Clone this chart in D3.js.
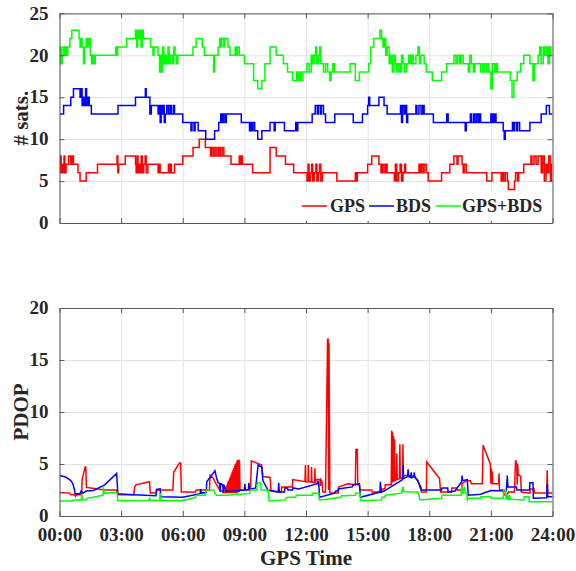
<!DOCTYPE html>
<html>
<head>
<meta charset="utf-8">
<script src="https://cdn.jsdelivr.net/npm/d3@7"></script>
<style>
  html, body { margin: 0; padding: 0; background: #fff; }
  svg { display: block; }
  text { font-family: "Liberation Serif", "Times New Roman", serif; font-weight: bold; fill: #262626; }
</style>
</head>
<body>
<svg id="chart" width="576" height="571"></svg>
<script>
// Visible satellites over one day, step points as [hour, count]
const gpsSats = [[0,6],[0.04,8],[0.08,6],[0.13,7],[0.18,6],[0.22,8],[0.26,6],[0.32,7],[0.45,8],[0.55,7],[0.62,8],[0.68,7],[0.9,6],[1.0,5],[1.3,6],[1.85,7],[2.8,8],[2.84,6],[2.88,7],[3.2,8],[3.7,7],[3.73,6],[3.78,8],[3.82,6],[3.88,7],[3.93,6],[3.98,8],[4.03,6],[4.1,7],[4.17,8],[4.22,6],[4.3,7],[4.8,6],[4.85,7],[4.9,6],[5.3,7],[5.35,6],[5.4,7],[5.45,6],[5.6,7],[6.0,8],[6.5,9],[6.8,10],[7.1,9],[7.35,8],[7.42,9],[7.5,8],[7.58,9],[7.66,8],[7.75,9],[7.83,8],[7.92,9],[8.0,8],[8.35,7],[8.75,8],[8.8,7],[8.85,8],[8.9,7],[9.4,6],[10.25,9],[10.55,8],[11.0,7],[11.4,6],[12.05,5],[12.1,7],[12.15,5],[12.22,6],[12.28,7],[12.33,5],[12.4,6],[12.48,7],[12.53,5],[12.6,6],[12.66,7],[12.72,5],[12.8,6],[13.5,5],[14.4,6],[14.45,5],[14.5,6],[15.0,7],[15.2,8],[15.55,7],[15.65,6],[15.72,7],[15.8,6],[15.88,7],[15.95,6],[16.3,5],[16.35,7],[16.42,5],[16.5,6],[16.58,7],[16.65,5],[16.72,6],[16.8,7],[16.85,6],[17.5,7],[17.55,6],[17.62,7],[17.7,6],[17.75,7],[17.85,6],[17.95,5],[18.6,6],[19.0,7],[19.2,8],[19.35,7],[19.4,8],[19.6,7],[19.65,6],[19.7,7],[19.8,6],[20.8,5],[21.05,6],[21.5,5],[21.55,6],[21.62,5],[21.7,6],[21.8,5],[21.85,4],[22.15,5],[22.2,6],[22.3,5],[22.35,6],[22.6,7],[22.95,8],[23.0,7],[23.1,8],[23.2,7],[23.3,8],[23.45,6],[23.52,8],[23.6,5],[23.68,7],[23.75,6],[23.82,8],[23.9,5],[23.95,7],[24,7]];
const bdsSats = [[0,13],[0.2,14],[0.55,15],[0.68,16],[1.0,15],[1.05,16],[1.1,14],[1.15,15],[1.2,14],[1.27,16],[1.32,14],[1.38,15],[1.45,14],[1.55,13],[2.85,14],[3.7,15],[4.18,16],[4.22,15],[4.4,13],[4.47,14],[4.8,13],[4.85,14],[4.9,12],[4.95,14],[5.0,13],[5.05,14],[5.1,12],[5.15,13],[5.22,14],[5.3,13],[5.38,14],[5.45,13],[5.55,14],[5.6,13],[6.0,12],[6.4,11],[6.45,12],[6.55,11],[6.6,12],[6.75,11],[7.12,10],[7.55,11],[7.75,12],[7.85,13],[7.9,12],[7.97,13],[8.05,12],[8.12,13],[8.85,12],[9.25,11],[9.3,12],[9.35,11],[9.42,12],[9.5,11],[9.65,10],[9.85,11],[10.25,12],[10.45,11],[10.5,12],[10.95,11],[11.5,12],[11.55,11],[11.6,12],[12.3,13],[12.45,14],[12.55,13],[12.6,14],[12.7,13],[12.75,14],[12.85,13],[12.95,12],[13.4,13],[14.3,12],[14.75,13],[15.0,14],[15.05,15],[15.1,14],[15.55,15],[15.8,14],[15.95,13],[16.6,14],[16.65,12],[16.7,14],[16.78,13],[16.85,14],[16.9,12],[16.95,13],[17.35,14],[17.4,13],[17.5,14],[17.6,13],[17.68,14],[17.75,13],[18.2,12],[18.85,13],[18.92,12],[19.75,11],[19.8,12],[20.0,13],[20.05,12],[20.15,13],[20.22,12],[20.3,13],[20.38,12],[20.45,13],[20.5,12],[21.0,13],[21.05,12],[21.1,13],[21.15,12],[21.2,13],[21.25,12],[21.6,11],[21.65,10],[21.7,11],[22.05,12],[22.1,11],[22.15,12],[22.25,11],[22.3,12],[22.4,11],[22.9,12],[23.45,13],[23.7,14],[23.85,13],[24,13]];
const gpsBdsSats = [[0,19],[0.04,21],[0.09,19],[0.13,20],[0.18,21],[0.23,20],[0.28,21],[0.34,20],[0.4,21],[0.5,22],[0.6,23],[0.95,22],[1.0,21],[1.06,22],[1.1,21],[1.17,19],[1.22,21],[1.3,22],[1.36,21],[1.42,22],[1.5,20],[1.56,19],[1.62,20],[1.67,19],[1.74,20],[2.74,21],[2.78,20],[2.83,21],[3.27,22],[3.7,23],[3.75,21],[3.8,23],[3.86,22],[3.92,23],[3.97,21],[4.03,23],[4.08,22],[4.43,21],[4.55,20],[4.6,21],[4.8,20],[4.87,18],[4.92,20],[4.97,18],[5.02,21],[5.08,19],[5.15,20],[5.2,19],[5.28,21],[5.33,19],[5.4,20],[5.5,19],[5.56,21],[5.62,20],[5.7,19],[5.76,20],[6.5,21],[6.65,22],[6.95,21],[7.05,20],[7.5,18],[7.55,20],[7.72,21],[7.8,22],[7.85,21],[7.9,22],[8.0,21],[8.05,22],[8.2,21],[8.3,20],[8.55,21],[8.6,20],[8.66,21],[8.75,20],[9.0,19],[9.45,17],[9.65,16],[9.85,17],[10.0,19],[10.25,21],[10.55,20],[10.9,19],[11.1,18],[11.35,17],[11.55,18],[11.62,17],[11.7,18],[11.76,17],[11.85,18],[12.05,19],[12.15,18],[12.25,20],[12.32,19],[12.4,20],[12.47,21],[12.52,19],[12.6,20],[12.67,21],[12.72,19],[12.85,18],[12.95,19],[13.05,18],[13.15,17],[13.22,18],[13.3,19],[13.38,18],[14.15,19],[14.4,17],[14.6,18],[15.05,19],[15.15,21],[15.3,22],[15.6,23],[15.68,22],[15.75,21],[15.82,22],[15.88,20],[15.95,21],[16.05,19],[16.12,20],[16.2,18],[16.28,20],[16.35,19],[16.42,18],[16.5,19],[16.58,18],[16.65,20],[16.72,19],[16.8,18],[16.9,19],[17.0,20],[17.08,19],[17.15,20],[17.22,19],[17.35,20],[17.45,21],[17.52,19],[17.6,20],[17.75,19],[17.85,18],[18.15,17],[18.6,18],[18.85,19],[19.2,20],[19.3,19],[19.38,20],[19.48,19],[19.55,20],[19.65,19],[19.9,18],[19.97,20],[20.05,19],[20.15,18],[20.22,19],[20.5,18],[20.6,19],[20.7,18],[20.8,19],[20.9,18],[21.0,16],[21.07,19],[21.18,18],[21.25,19],[21.32,18],[21.95,17],[22.03,15],[22.12,17],[22.28,18],[22.45,19],[22.6,20],[22.9,19],[23.05,17],[23.12,19],[23.3,20],[23.38,21],[23.45,19],[23.55,21],[23.62,20],[23.7,21],[23.78,19],[23.85,21],[23.92,20],[24,20]];

// PDOP over the same day, points as [hour, PDOP]
const gpsPdop = [[0,2.25],[0.5,2.2],[0.55,2.05],[0.75,2.05],[0.78,1.9],[0.85,2.05],[1.08,2.05],[1.1,3.5],[1.25,4.7],[1.28,4.7],[1.31,2.75],[1.7,2.65],[2.2,2.5],[2.78,2.5],[2.83,2.05],[3.62,2.05],[3.66,2.8],[3.72,3.0],[4.38,3.3],[4.42,2.2],[4.7,2.2],[4.74,2.5],[5.52,2.5],[5.56,4.2],[5.84,5.1],[5.9,5.1],[5.93,2.3],[6.62,2.3],[6.66,2.5],[7.3,2.5],[7.33,3.9],[7.5,3.6],[7.56,3.3],[7.8,2.5],[8.05,2.25],[8.08,2.6],[8.1,2.2],[8.12,2.9],[8.14,2.2],[8.16,3.0],[8.18,2.2],[8.2,3.3],[8.22,2.2],[8.24,3.4],[8.26,2.2],[8.28,3.6],[8.3,2.2],[8.32,3.8],[8.34,2.2],[8.36,4.0],[8.38,2.2],[8.4,4.2],[8.42,2.2],[8.44,4.4],[8.46,2.2],[8.48,4.6],[8.5,2.2],[8.52,4.8],[8.54,2.2],[8.56,5.0],[8.58,2.2],[8.6,5.1],[8.62,2.2],[8.64,5.3],[8.66,2.2],[8.68,5.4],[8.7,2.3],[8.72,5.4],[8.74,2.3],[8.76,5.4],[8.79,2.5],[9.3,2.5],[9.34,5.3],[9.84,4.9],[9.9,3.8],[10.25,3.7],[10.3,2.4],[10.8,2.3],[10.82,2.8],[11.33,2.8],[11.36,3.5],[11.95,3.3],[11.97,4.9],[11.99,3.3],[12.1,3.3],[12.11,4.9],[12.13,3.3],[12.26,3.25],[12.27,4.7],[12.29,3.25],[12.42,3.2],[12.43,4.6],[12.45,3.2],[12.5,3.5],[12.68,3.5],[12.7,2.9],[12.72,3.5],[12.78,3.3],[12.82,2.3],[12.95,2.3],[13.05,17.0],[13.08,17.0],[13.1,2.5],[13.12,16.6],[13.16,2.2],[13.57,2.2],[13.6,2.8],[14.05,3.1],[14.4,3.0],[14.43,6.4],[14.5,6.4],[14.52,3.0],[14.6,3.0],[14.63,2.5],[15.2,2.5],[15.22,2.3],[15.68,2.3],[15.7,2.6],[15.84,2.6],[15.86,3.0],[16.15,3.0],[16.17,8.2],[16.18,3.2],[16.19,8.1],[16.2,3.2],[16.21,8.0],[16.22,3.3],[16.23,7.8],[16.24,3.3],[16.25,7.7],[16.26,3.3],[16.27,7.5],[16.28,3.3],[16.29,7.4],[16.3,3.4],[16.31,7.3],[16.33,3.4],[16.4,3.5],[16.42,6.0],[16.44,3.5],[16.55,3.6],[16.57,6.9],[16.59,3.6],[16.7,3.7],[16.72,6.9],[16.74,3.8],[16.8,3.9],[17.0,3.9],[17.3,3.8],[17.6,2.8],[17.62,2.3],[17.86,2.3],[17.88,5.2],[18.5,3.6],[18.55,2.3],[19.08,2.3],[19.1,2.7],[19.33,2.7],[19.35,2.5],[19.57,2.5],[19.6,3.1],[19.8,3.4],[20.0,3.4],[20.05,3.1],[20.58,3.1],[20.62,6.8],[20.97,5.0],[21.0,3.1],[21.02,4.6],[21.04,3.1],[21.07,4.3],[21.09,3.1],[21.38,3.1],[21.4,4.1],[21.42,2.5],[21.6,2.5],[21.62,2.2],[21.75,1.85],[21.85,2.3],[22.15,2.3],[22.2,5.35],[22.26,5.0],[22.28,3.0],[22.3,5.0],[22.33,4.0],[22.45,3.8],[22.48,2.3],[22.9,2.2],[22.92,2.6],[23.1,2.6],[23.12,2.2],[23.72,2.2],[23.74,4.4],[23.77,2.2],[24,2.2]];
const bdsPdop = [[0,3.9],[0.3,3.75],[0.55,3.4],[0.65,3.1],[0.72,2.6],[0.76,2.15],[1.0,2.15],[1.05,2.4],[1.15,2.2],[1.3,2.4],[1.65,2.45],[2.2,3.0],[2.78,4.1],[2.84,2.15],[3.6,2.05],[4.7,1.95],[4.72,2.55],[4.9,2.6],[4.93,1.85],[6.0,1.8],[6.85,2.15],[6.87,2.6],[6.9,2.2],[7.14,2.25],[7.17,3.3],[7.57,4.35],[7.65,3.6],[7.73,3.2],[7.8,3.1],[7.82,2.3],[7.85,3.1],[7.95,3.0],[7.97,2.2],[8.0,3.0],[8.1,2.35],[9.0,2.5],[9.02,3.1],[9.05,2.5],[9.2,2.55],[9.22,3.2],[9.25,2.55],[9.55,2.7],[9.67,4.9],[9.85,4.7],[9.9,3.4],[10.15,2.5],[10.65,2.3],[10.67,3.2],[10.7,2.3],[10.95,2.3],[10.97,2.7],[11.1,2.7],[11.12,2.5],[11.35,2.5],[11.37,2.7],[11.65,2.6],[12.55,3.1],[12.58,3.4],[12.62,3.1],[12.66,1.8],[13.4,2.2],[13.45,2.4],[13.55,2.4],[13.57,2.6],[14.25,2.8],[14.3,3.0],[14.6,3.1],[14.65,1.8],[15.6,2.3],[15.62,3.3],[15.66,2.3],[15.8,2.4],[16.7,3.5],[16.72,4.9],[16.75,3.6],[16.95,3.8],[16.97,4.5],[17.0,3.8],[17.1,3.7],[17.12,4.2],[17.15,3.7],[17.25,3.8],[17.27,4.2],[17.3,3.7],[17.45,3.4],[17.6,2.5],[18.6,2.5],[18.62,2.7],[18.9,2.7],[18.92,2.3],[19.25,2.4],[19.58,3.3],[19.6,3.9],[19.62,3.4],[19.85,3.5],[19.9,2.0],[20.5,2.1],[21.0,2.45],[21.75,2.4],[21.8,3.9],[21.83,2.8],[22.25,2.8],[22.27,2.5],[22.88,2.5],[22.9,3.2],[23.05,3.2],[23.07,1.7],[23.72,1.75],[23.74,3.1],[23.77,1.85],[24,1.85]];
const gpsBdsPdop = [[0,1.45],[0.65,1.45],[0.68,1.55],[1.06,1.55],[1.08,2.1],[1.12,1.55],[1.3,1.55],[1.35,1.7],[2.0,1.95],[2.12,2.0],[2.14,2.8],[2.17,2.2],[2.8,2.25],[2.84,1.47],[4.35,1.5],[4.38,1.7],[4.45,1.5],[4.88,1.5],[4.9,2.2],[4.93,1.5],[6.0,1.5],[6.6,1.75],[6.67,2.0],[7.1,2.0],[7.15,2.5],[7.5,2.5],[7.55,2.2],[7.65,2.0],[8.1,2.0],[9.25,2.15],[9.28,2.5],[9.6,2.5],[9.63,3.2],[9.78,3.2],[9.82,2.5],[10.16,2.5],[10.2,1.45],[11.0,1.55],[11.03,1.7],[11.1,1.8],[11.5,1.8],[11.52,2.0],[12.3,2.0],[12.32,2.18],[12.62,2.18],[12.65,1.54],[13.0,1.6],[13.7,1.8],[13.72,1.95],[14.4,2.0],[14.42,2.18],[14.63,2.18],[14.67,1.47],[15.68,1.55],[15.7,1.8],[15.84,1.8],[15.86,2.0],[16.65,2.2],[16.72,2.82],[16.75,2.34],[17.45,2.3],[17.55,1.54],[18.6,1.7],[18.62,2.0],[19.55,2.0],[19.58,2.8],[19.62,2.1],[19.7,2.8],[19.75,2.2],[19.82,2.2],[19.86,1.54],[19.9,1.7],[20.5,1.7],[20.52,1.85],[21.0,1.85],[21.02,1.7],[21.6,1.7],[21.62,2.5],[21.72,2.5],[21.75,1.6],[21.8,2.1],[21.85,1.5],[21.9,2.0],[21.95,1.6],[22.6,1.55],[22.62,1.85],[22.85,1.85],[22.87,1.37],[24,1.37]];

const seriesNames = ["GPS", "BDS", "GPS+BDS"];
const seriesColors = ["#ff0000", "#0000ff", "#00ff00"];
const hourTicks = [0, 3, 6, 9, 12, 15, 18, 21, 24];
const hourLabels = ["00:00", "03:00", "06:00", "09:00", "12:00", "15:00", "18:00", "21:00", "24:00"];
const satTicks = [0, 5, 10, 15, 20, 25];
const pdopTicks = [0, 5, 10, 15, 20];

const svg = d3.select("#chart");
const left = 59.5, right = 552.5;
const x = d3.scaleLinear().domain([0, 24]).range([left, right]);
const axisColor = "#5a5a5a";
const gridColor = "#e3e3e3";
const tickLen = 5;

function panel(id, top, bottom, yMax, yTicks, label, seriesList, curve, showXLabels) {
  const y = d3.scaleLinear().domain([0, yMax]).range([bottom, top]);
  const g = svg.append("g");

  // grid
  g.append("g").attr("transform", `translate(0,${bottom})`)
    .call(d3.axisBottom(x).tickValues(hourTicks).tickSize(-(bottom - top)).tickFormat(""))
    .call(s => s.select(".domain").remove())
    .call(s => s.selectAll("line").attr("stroke", gridColor).attr("stroke-width", 1));
  g.append("g").attr("transform", `translate(${left},0)`)
    .call(d3.axisLeft(y).tickValues(yTicks).tickSize(-(right - left)).tickFormat(""))
    .call(s => s.select(".domain").remove())
    .call(s => s.selectAll("line").attr("stroke", gridColor).attr("stroke-width", 1));

  // data
  g.append("clipPath").attr("id", id).append("rect")
    .attr("x", left).attr("y", top).attr("width", right - left).attr("height", bottom - top);
  const line = d3.line().x(d => x(d[0])).y(d => y(d[1])).curve(curve);
  const lines = g.append("g").attr("clip-path", `url(#${id})`);
  seriesList.forEach((data, i) => {
    lines.append("path").datum(data)
      .attr("fill", "none").attr("stroke", seriesColors[i])
      .attr("stroke-width", 1.5).attr("stroke-linejoin", "miter")
      .attr("d", line);
  });

  // axes with inward ticks on every side
  const bottomAxis = d3.axisBottom(x).tickValues(hourTicks).tickSizeInner(-tickLen).tickSizeOuter(0).tickPadding(12)
    .tickFormat(showXLabels ? (d, i) => hourLabels[i] : "");
  const topAxis = d3.axisTop(x).tickValues(hourTicks).tickSizeInner(-tickLen).tickSizeOuter(0).tickFormat("");
  const leftAxis = d3.axisLeft(y).tickValues(yTicks).tickSizeInner(-tickLen).tickSizeOuter(0).tickPadding(11);
  const rightAxis = d3.axisRight(y).tickValues(yTicks).tickSizeInner(-tickLen).tickSizeOuter(0).tickFormat("");
  const style = s => {
    s.select(".domain").attr("stroke", axisColor);
    s.selectAll("line").attr("stroke", axisColor);
    s.selectAll("text").attr("font-family", '"Liberation Serif", serif').attr("font-weight", "bold")
      .attr("font-size", 19).attr("fill", "#262626");
  };
  g.append("g").attr("transform", `translate(0,${bottom})`).call(bottomAxis).call(style);
  g.append("g").attr("transform", `translate(0,${top})`).call(topAxis).call(style);
  g.append("g").attr("transform", `translate(${left},0)`).call(leftAxis).call(style)
    .call(s => s.selectAll("text").attr("dy", "0.3em"));
  g.append("g").attr("transform", `translate(${right},0)`).call(rightAxis).call(style);

  g.append("text")
    .attr("transform", `translate(28,${(top + bottom) / 2}) rotate(-90)`)
    .attr("text-anchor", "middle").attr("font-size", 21)
    .text(label);
  return { g, y };
}

const topPanel = panel("clipSats", 13.4, 223, 25, satTicks, "# sats.",
  [gpsSats, bdsSats, gpsBdsSats], d3.curveStepAfter, false);
panel("clipPdop", 308, 516, 20, pdopTicks, "PDOP",
  [gpsPdop, bdsPdop, gpsBdsPdop], d3.curveLinear, true);

// legend inside the satellite panel
const legend = topPanel.g.append("g");
legend.append("rect").attr("x", 296).attr("y", 191).attr("width", 254).attr("height", 30).attr("fill", "#fff");
const legendItems = [{ lx: 302, tx: 330 }, { lx: 369, tx: 396 }, { lx: 436, tx: 462 }];
legendItems.forEach((p, i) => {
  legend.append("line").attr("x1", p.lx).attr("x2", p.lx + 25).attr("y1", 206).attr("y2", 206)
    .attr("stroke", seriesColors[i]).attr("stroke-width", 1.5);
  legend.append("text").attr("x", p.tx).attr("y", 212).attr("font-size", 18).text(seriesNames[i]);
});

svg.append("text").attr("x", (left + right) / 2).attr("y", 565)
  .attr("text-anchor", "middle").attr("font-size", 21).text("GPS Time");
</script>
</body>
</html>
